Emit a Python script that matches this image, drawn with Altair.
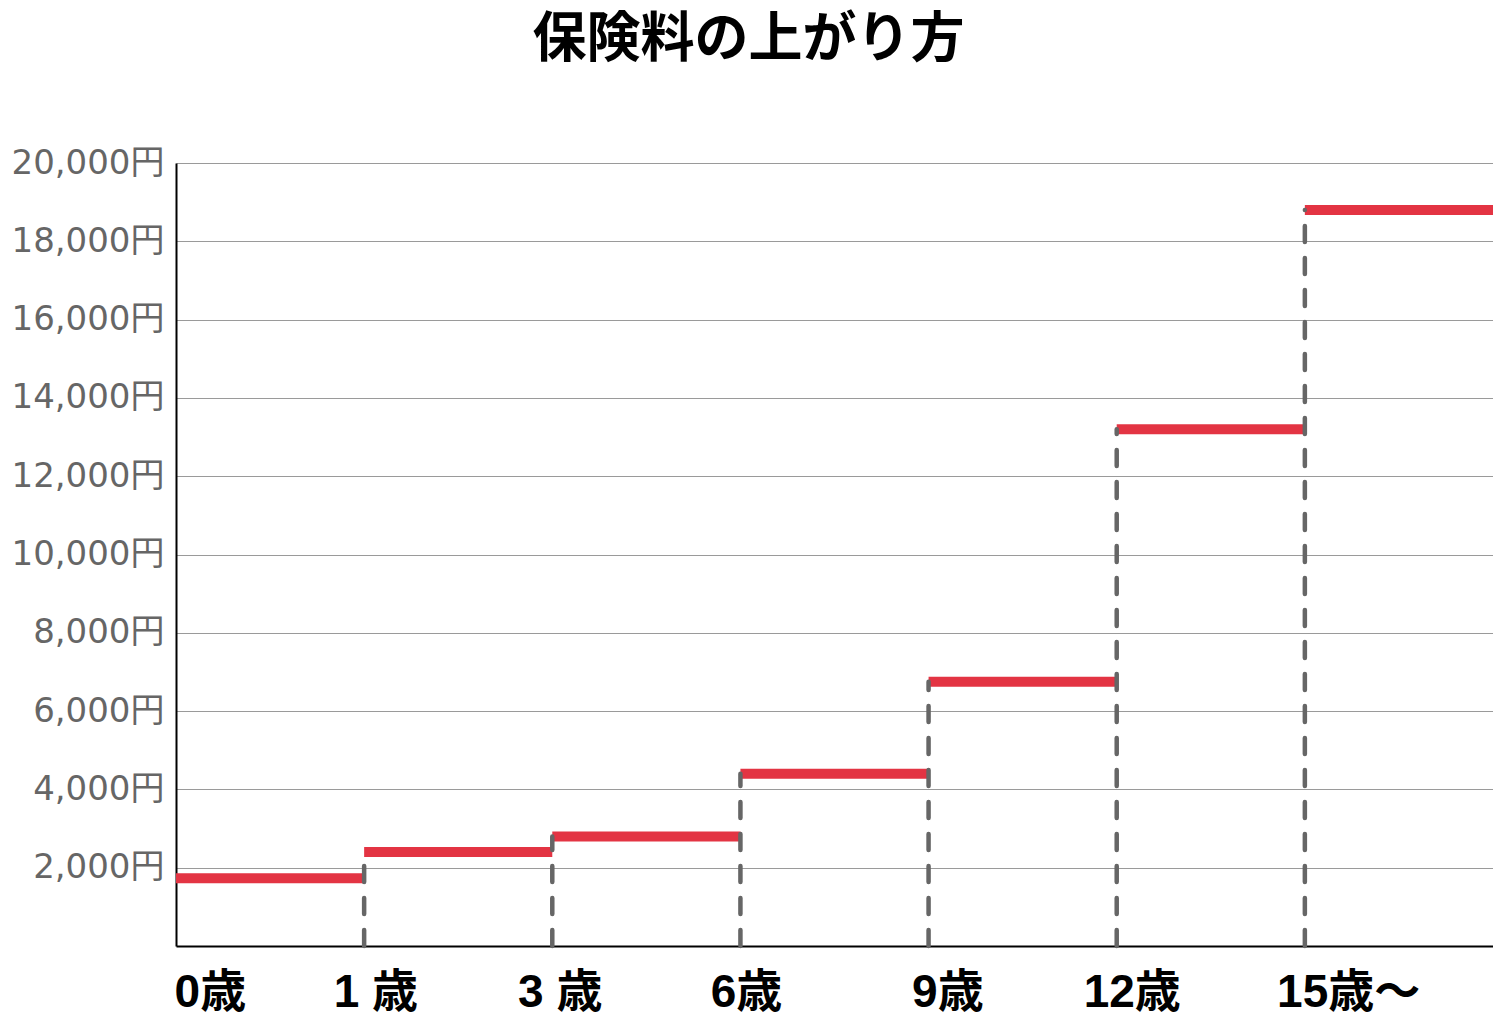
import json
import altair as alt
import pandas as pd

# ---- data ----
ages = ["0歳", "1 歳", "3 歳", "6歳", "9歳", "12歳", "15歳～"]
premiums = [1730, 2400, 2800, 4400, 6750, 13200, 18800]
seg_start = [0, 1, 2, 3, 4, 5, 6]
seg_end = [1, 2, 3, 4, 5, 6, 7]
label_pos = [0.18, 1.06, 2.04, 3.03, 4.10, 5.08, 6.23]
y_ticks = [2000, 4000, 6000, 8000, 10000, 12000, 14000, 16000, 18000, 20000]

seg_df = pd.DataFrame({"x": seg_start, "x2": seg_end, "y": premiums})
step_df = pd.DataFrame({"x": seg_start[1:], "y": [0] * 6, "y2": premiums[1:]})

label_expr = "{}[indexof({}, datum.value)]".format(
    json.dumps(ages, ensure_ascii=False), json.dumps(label_pos)
)

x_axis = alt.Axis(
    values=label_pos,
    labelExpr=label_expr,
    title=None,
    grid=False,
    ticks=False,
    domainColor="#000000",
    domainWidth=2,
    labelFont="Liberation Sans, Noto Sans CJK JP",
    labelFontSize=46,
    labelFontWeight="bold",
    labelColor="#000000",
    labelPadding=24,
    labelAlign="center",
    labelFlush=False,
    labelOverlap=False,
)
y_axis = alt.Axis(
    values=y_ticks,
    labelExpr="format(datum.value, ',') + '円'",
    title=None,
    grid=True,
    gridColor="#9a9a9a",
    gridWidth=1,
    ticks=False,
    domainColor="#000000",
    domainWidth=2,
    labelFont="DejaVu Sans, Noto Sans CJK JP",
    labelFontSize=34,
    labelColor="#666666",
    labelPadding=12,
    labelOverlap=False,
)

x_scale = alt.Scale(domain=[0, 7], nice=False, zero=False)
y_scale = alt.Scale(domain=[0, 20000], nice=False)

red = alt.Chart(seg_df).mark_rule(color="#e33443", strokeWidth=10, strokeCap="butt").encode(
    x=alt.X("x:Q", scale=x_scale, axis=x_axis),
    x2="x2:Q",
    y=alt.Y("y:Q", scale=y_scale, axis=y_axis),
)

dash = alt.Chart(step_df).mark_rule(
    color="#666666", strokeWidth=4.5, strokeDash=[16, 16], strokeCap="round"
).encode(
    x=alt.X("x:Q", scale=x_scale, axis=x_axis),
    y=alt.Y("y:Q", scale=y_scale, axis=y_axis),
    y2="y2:Q",
)

chart = (
    alt.layer(red, dash)
    .properties(
        width=1317,
        height=783,
        title=alt.TitleParams(
            "保険料の上がり方",
            font="Noto Sans CJK JP",
            fontSize=54,
            fontWeight="bold",
            color="#000000",
            anchor="middle",
            frame="bounds",
            offset=78,
            dx=-6,
        ),
        autosize=alt.AutoSizeParams(type="none"),
        padding={"left": 168, "top": 155, "right": 0, "bottom": 70},
    )
    .configure_view(stroke=None)
)

chart.save("out.html", embed_options={"renderer": "svg", "actions": False})
